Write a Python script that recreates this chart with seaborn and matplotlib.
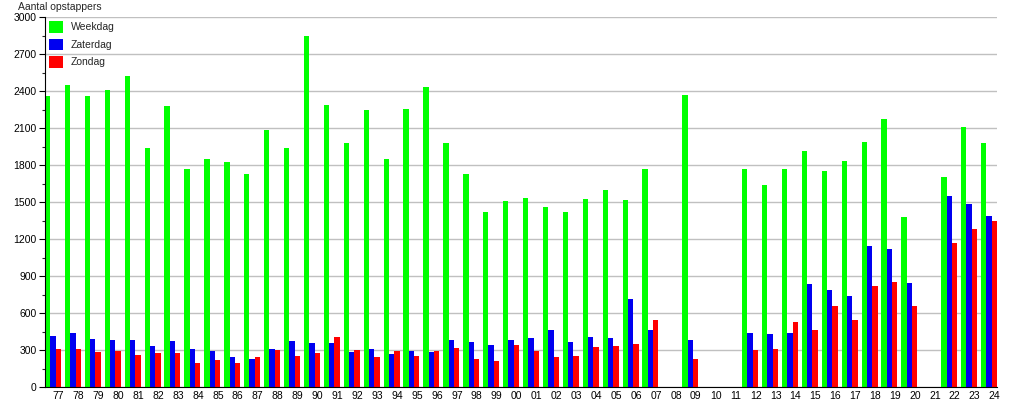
import pandas as pd
import matplotlib.pyplot as plt
import seaborn as sns
import numpy as np
from matplotlib.ticker import MultipleLocator

# CONFIG

OUTPUT_FILE = 'out.png'
FONT = 'Liberation Sans'
FONT_SIZE = 7.5

nan = np.nan

years = ['77', '78', '79', '80', '81', '82', '83', '84', '85', '86', '87', '88',
         '89', '90', '91', '92', '93', '94', '95', '96', '97', '98', '99', '00',
         '01', '02', '03', '04', '05', '06', '07', '08', '09', '10', '11', '12',
         '13', '14', '15', '16', '17', '18', '19', '20', '21', '22', '23', '24']

weekdag = [2360, 2450, 2360, 2410, 2525, 1940, 2280, 1770, 1845, 1825, 1730, 2080,
           1935, 2850, 2290, 1975, 2250, 1845, 2255, 2430, 1975, 1730, 1420, 1510,
           1535, 1460, 1415, 1525, 1600, 1520, 1770, nan, 2370, nan, nan, 1770,
           1635, 1770, 1915, 1755, 1835, 1990, 2175, 1375, nan, 1705, 2105, 1980]

zaterdag = [415, 440, 390, 385, 385, 330, 370, 310, 290, 240, 225, 310,
            370, 355, 360, 280, 305, 265, 295, 280, 378, 362, 338, 378,
            395, 460, 362, 403, 395, 716, 460, nan, 385, nan, nan, 435,
            427, 435, 838, 790, 740, 1145, 1115, 845, nan, 1550, 1487, 1390]

zondag = [305, 312, 280, 288, 257, 272, 272, 192, 216, 192, 240, 297,
          249, 273, 403, 297, 241, 289, 249, 289, 314, 224, 208, 338,
          289, 241, 249, 322, 330, 346, 541, nan, 224, nan, nan, 297,
          305, 524, 460, 660, 546, 822, 854, 660, nan, 1170, 1284, 1349]

series_names = ['Weekdag', 'Zaterdag', 'Zondag']
series_colors = ['#00ff00', '#0000f0', '#ff0000']

# PLOTTING

df = pd.DataFrame({'Jaar': years, 'Weekdag': weekdag,
                   'Zaterdag': zaterdag, 'Zondag': zondag})
df_long = df.melt(id_vars='Jaar', var_name='Dag', value_name='Opstappers')

sns.set_style('white')
plt.rcParams['font.family'] = [FONT, 'DejaVu Sans']
plt.rcParams['font.size'] = FONT_SIZE

fig = plt.figure(figsize=(10.15, 4.0), dpi=100)
ax = fig.add_axes([45 / 1015, 13 / 400, 952 / 1015, 370 / 400])

sns.barplot(data=df_long, x='Jaar', y='Opstappers', hue='Dag',
            order=years, hue_order=series_names,
            palette=dict(zip(series_names, series_colors)),
            width=0.8, saturation=1, errorbar=None, linewidth=0, ax=ax)

ax.set_xlim(-0.4, len(years) - 0.6)
ax.set_ylim(0, 3000)
ax.yaxis.set_major_locator(MultipleLocator(300))
ax.yaxis.set_minor_locator(MultipleLocator(150))
ax.set_xticks(np.arange(len(years)) + 0.28, years)

ax.set_axisbelow(True)
ax.grid(axis='y', which='major', color='#c0c0c0', linewidth=1)
ax.grid(axis='x', visible=False)

for side in ['top', 'right']:
    ax.spines[side].set_visible(False)
for side in ['left', 'bottom']:
    ax.spines[side].set_color('black')
    ax.spines[side].set_linewidth(0.8)

ax.tick_params(axis='y', which='major', left=True, length=4, width=0.8, pad=2,
               labelsize=FONT_SIZE, colors='black')
ax.tick_params(axis='y', which='minor', left=True, length=2, width=0.8)
ax.tick_params(axis='x', length=0, pad=3, labelsize=FONT_SIZE, colors='black')

ax.set_xlabel('')
ax.set_ylabel('')

leg = ax.legend(loc='upper left', frameon=False,
                handlelength=1.3, handleheight=1.35, handletextpad=0.8,
                labelspacing=0.55, borderpad=0.4, borderaxespad=0.0,
                fontsize=FONT_SIZE)

fig.text(18 / 1015, 1 - 7 / 400, 'Aantal opstappers', ha='left', va='center',
         fontsize=FONT_SIZE)

fig.savefig(OUTPUT_FILE, dpi=100)
plt.close(fig)
